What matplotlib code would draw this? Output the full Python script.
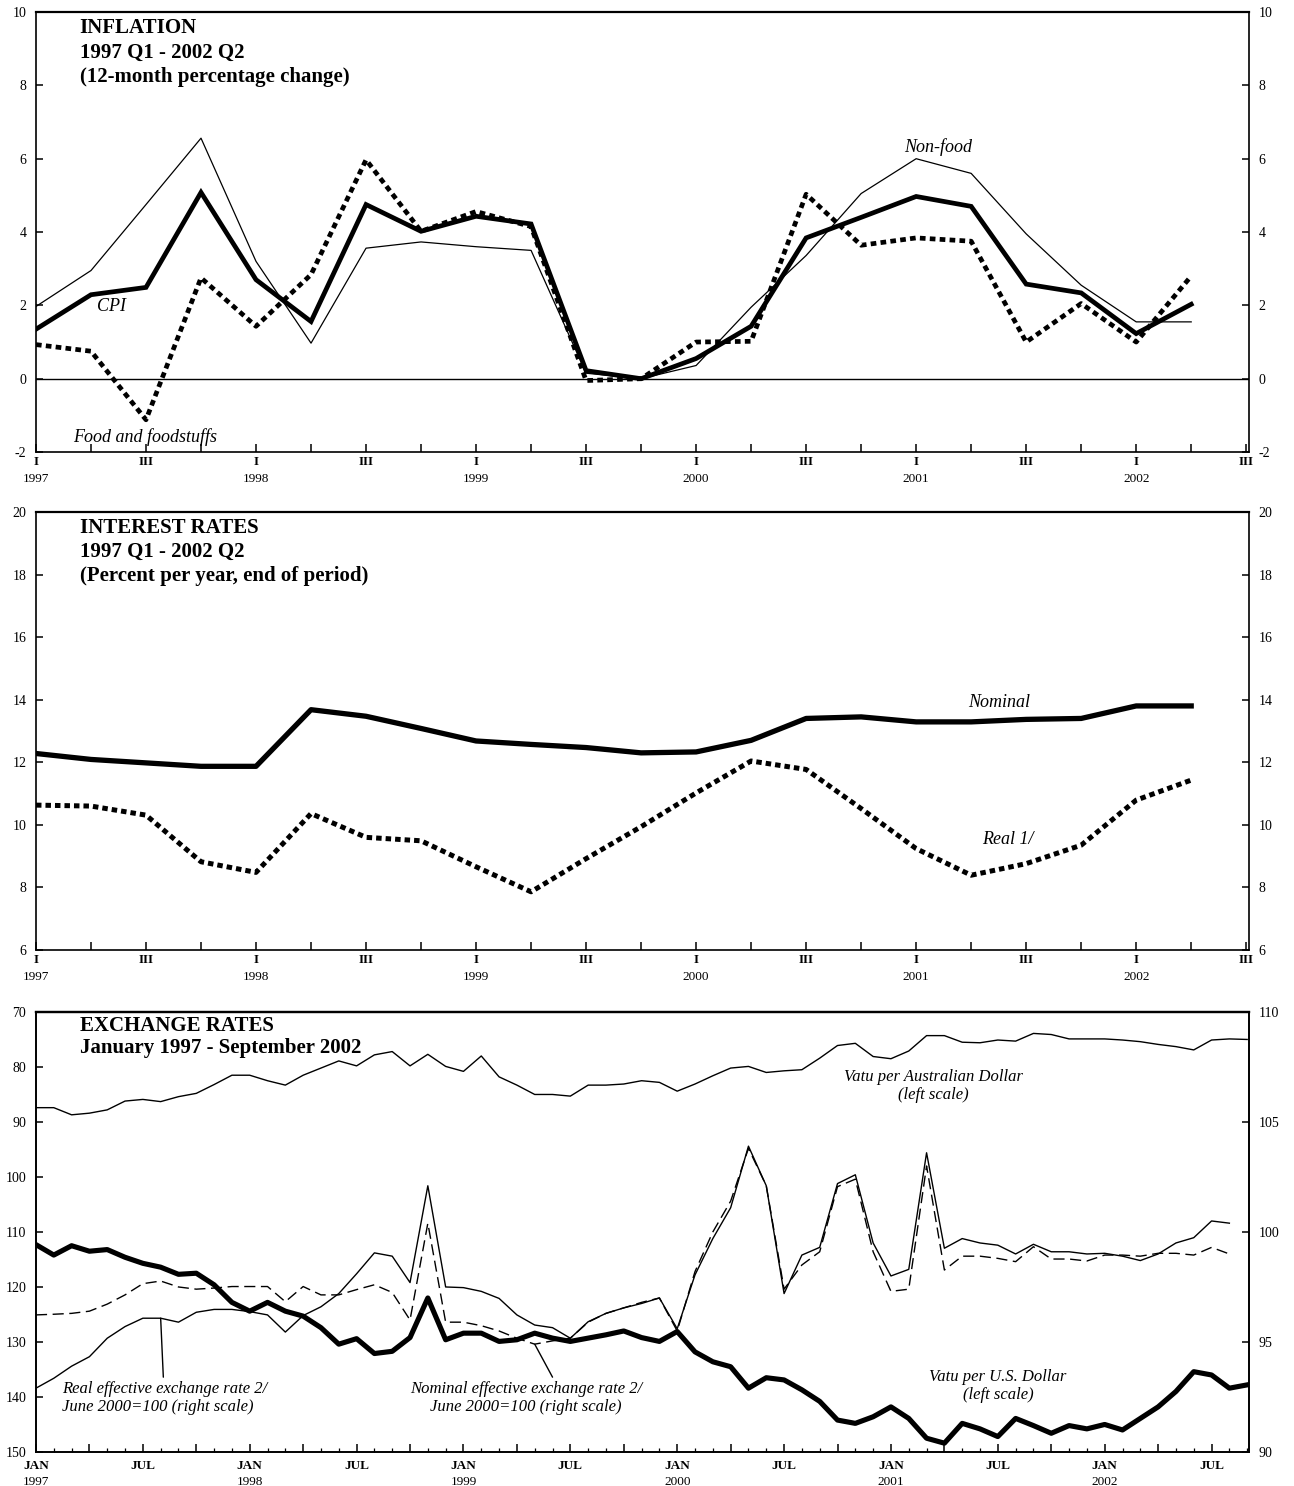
import matplotlib.pyplot as plt
import numpy as np

plt.rcParams['font.family'] = ['Liberation Serif', 'DejaVu Serif']
plt.rcParams['axes.unicode_minus'] = False

# quarterly series, 1997 Q1 - 2002 Q2
cpi = [1.35, 2.29, 2.49, 5.08, 2.70, 1.56, 4.75, 4.02, 4.43, 4.22, 0.22,
       0.00, 0.55, 1.43, 3.84, 4.40, 4.97, 4.70, 2.58, 2.34, 1.23, 2.03]
non_food = [1.97, 2.95, 4.75, 6.56, 3.20, 0.97, 3.56, 3.73, 3.60, 3.50, 0.15,
            0.00, 0.36, 1.95, 3.36, 5.05, 6.00, 5.60, 3.95, 2.55, 1.55, 1.55]
food = [0.93, 0.75, -1.12, 2.75, 1.43, 2.84, 5.97, 4.02, 4.56, 4.15, -0.05,
        0.00, 1.00, 1.02, 5.03, 3.64, 3.84, 3.75, 1.00, 2.05, 1.00, 2.80]

nominal_rate = [12.28, 12.09, 11.98, 11.87, 11.87, 13.68, 13.47, 13.08, 12.68, 12.57, 12.47,
                12.30, 12.33, 12.70, 13.40, 13.45, 13.29, 13.29, 13.37, 13.40, 13.80, 13.80]
real_rate = [10.63, 10.60, 10.31, 8.82, 8.48, 10.36, 9.60, 9.49, 8.66, 7.86, 8.92,
             9.94, 11.02, 12.04, 11.77, 10.52, 9.24, 8.39, 8.76, 9.35, 10.79, 11.43]

# monthly series, January 1997 - September 2002
vt_aud = [87.4, 87.4, 88.7, 88.4, 87.8, 86.2, 85.9, 86.3, 85.4, 84.8, 83.2, 81.5,
          81.5, 82.5, 83.3, 81.5, 80.2, 78.9, 79.8, 77.8, 77.2, 79.8, 77.7, 79.9,
          80.8, 78.0, 81.8, 83.3, 85.0, 85.0, 85.3, 83.3, 83.3, 83.1, 82.5, 82.8,
          84.4, 83.1, 81.6, 80.2, 79.9, 81.0, 80.7, 80.5, 78.4, 76.1, 75.7, 78.1,
          78.5, 77.1, 74.3, 74.3, 75.5, 75.6, 75.1, 75.3, 73.9, 74.1, 74.9, 74.9,
          74.9, 75.1, 75.4, 75.9, 76.3, 76.9, 75.1, 74.9, 75.0]
vt_usd = [112.3, 114.2, 112.5, 113.5, 113.2, 114.6, 115.7, 116.4, 117.7, 117.5, 119.6, 122.8,
          124.4, 122.8, 124.4, 125.3, 127.4, 130.4, 129.4, 132.1, 131.7, 129.2, 122.0, 129.6,
          128.4, 128.4, 129.9, 129.6, 128.4, 129.3, 129.9, 129.3, 128.7, 128.0, 129.2, 129.9,
          128.1, 131.8, 133.6, 134.5, 138.4, 136.5, 136.9, 138.7, 140.8, 144.2, 144.8, 143.6,
          141.8, 143.9, 147.5, 148.4, 144.8, 145.8, 147.2, 143.9, 145.2, 146.6, 145.2, 145.8,
          145.0, 146.0, 143.9, 141.8, 139.0, 135.4, 136.0, 138.4, 137.8]
reer = [92.9, 93.35, 93.9, 94.33, 95.17, 95.7, 96.08, 96.08, 95.9, 96.35, 96.48, 96.48,
        96.38, 96.23, 95.45, 96.2, 96.6, 97.2, 98.1, 99.05, 98.9, 97.7, 102.1, 97.5,
        97.47, 97.3, 96.98, 96.23, 95.77, 95.65, 95.17, 95.92, 96.3, 96.55, 96.75, 97.0,
        95.6, 98.05, 99.7, 101.1, 103.9, 102.1, 97.2, 98.95, 99.3, 102.2, 102.6, 99.5,
        98.0, 98.3, 103.6, 99.26, 99.7, 99.5, 99.4, 99.0, 99.44, 99.1, 99.1, 99.0,
        99.03, 98.9, 98.7, 99.0, 99.5, 99.74, 100.5, 100.4]
neer = [96.23, 96.26, 96.3, 96.4, 96.72, 97.14, 97.65, 97.77, 97.5, 97.4, 97.45, 97.52,
        97.52, 97.52, 96.83, 97.52, 97.14, 97.14, 97.38, 97.6, 97.25, 96.0, 100.4, 95.9,
        95.9, 95.74, 95.5, 95.17, 94.9, 95.05, 95.17, 95.9, 96.3, 96.55, 96.8, 97.0,
        95.5, 98.2, 100.0, 101.4, 103.8, 102.1, 97.4, 98.5, 99.1, 102.06, 102.4, 99.1,
        97.3, 97.4, 103.0, 98.27, 98.9, 98.9, 98.8, 98.65, 99.33, 98.77, 98.77, 98.68,
        98.95, 98.95, 98.9, 99.03, 99.03, 98.95, 99.3, 99.0]

quarters = np.arange(len(cpi))
months = np.arange(len(vt_usd))
q_years = ['1997', '1998', '1999', '2000', '2001', '2002']
m_years = ['1997', '1998', '1999', '2000', '2001', '2002']

TITLE = 15
LABEL = 13
TICK = 10
XLAB = 9.5


def frame(ax):
    for s in ax.spines.values():
        s.set_linewidth(1.2)
    ax.spines['top'].set_linewidth(1.6)


def quarter_axis(ax):
    ax.set_xlim(0, 22.05)
    ax.set_xticks(range(23))
    ax.set_xticklabels([])
    ax.tick_params(axis='x', direction='in', length=6, width=1.1)
    for i in range(0, 23, 2):
        ax.annotate('I' if i % 4 == 0 else 'III', xy=(i, 0), xycoords=('data', 'axes fraction'),
                    xytext=(0, -7.5), textcoords='offset points', ha='center', va='center',
                    fontsize=XLAB, fontweight='bold')
        if i % 4 == 0 and i // 4 < len(q_years):
            ax.annotate(q_years[i // 4], xy=(i, 0), xycoords=('data', 'axes fraction'),
                        xytext=(0, -19.5), textcoords='offset points', ha='center', va='center',
                        fontsize=XLAB)


def both_sides(ax, ticks):
    ax.set_yticks(ticks)
    ax.tick_params(axis='y', direction='in', length=5, width=1.1, left=True, right=True,
                   labelleft=True, labelright=True, labelsize=TICK, pad=7)


def titles(ax, lines, ys):
    for t, y in zip(lines, ys):
        ax.text(0.036, y, t, transform=ax.transAxes, ha='left', va='center',
                fontsize=TITLE, fontweight='bold')


fig = plt.figure(figsize=(12.94, 14.86), dpi=100)

# inflation
ax1 = fig.add_axes([0.0278, 0.6958, 0.9374, 0.2961])
ax1.axhline(0, color='black', lw=1.0)
ax1.plot(quarters, non_food, color='black', lw=0.9)
ax1.plot(quarters, food, color='black', lw=3.4, linestyle=(0, (1.2, 0.9)))
ax1.plot(quarters, cpi, color='black', lw=3.4, solid_joinstyle='miter')
ax1.set_ylim(-2, 10)
both_sides(ax1, range(-2, 11, 2))
quarter_axis(ax1)
frame(ax1)
titles(ax1, ['INFLATION', '1997 Q1 - 2002 Q2', '(12-month percentage change)'],
       [0.9636, 0.907, 0.852])
ax1.text(1.38, 1.96, 'CPI', style='italic', fontsize=LABEL, ha='center', va='center')
ax1.text(1.98, -1.58, 'Food and foodstuffs', style='italic', fontsize=LABEL, ha='center', va='center')
ax1.text(16.4, 6.33, 'Non-food', style='italic', fontsize=LABEL, ha='center', va='center')

# interest rates
ax2 = fig.add_axes([0.0278, 0.3607, 0.9374, 0.2948])
ax2.plot(quarters, real_rate, color='black', lw=3.6, linestyle=(0, (1.1, 0.8)))
ax2.plot(quarters, nominal_rate, color='black', lw=3.8)
ax2.set_ylim(6, 20)
both_sides(ax2, range(6, 21, 2))
quarter_axis(ax2)
frame(ax2)
titles(ax2, ['INTEREST RATES', '1997 Q1 - 2002 Q2', '(Percent per year, end of period)'],
       [0.9635, 0.9087, 0.854])
ax2.text(17.5, 13.9, 'Nominal', style='italic', fontsize=LABEL, ha='center', va='center')
ax2.text(17.67, 9.52, 'Real 1/', style='italic', fontsize=LABEL, ha='center', va='center')

# exchange rates: left scale is inverted (vatu per dollar), right scale is the index
ax3 = fig.add_axes([0.0278, 0.0229, 0.9374, 0.2961])
ax3b = ax3.twinx()
ax3b.plot(months[:len(reer)], reer, color='black', lw=1.0)
ax3b.plot(months[:len(neer)], neer, color='black', lw=1.0, linestyle=(0, (8, 4)))
ax3.plot(months, vt_aud, color='black', lw=1.0)
ax3.plot(months, vt_usd, color='black', lw=3.7)
ax3.set_ylim(150, 70)
ax3b.set_ylim(90, 110)
ax3.set_xlim(0, 68.1)
ax3.set_yticks(range(70, 151, 10))
ax3b.set_yticks(range(90, 111, 5))
ax3.tick_params(axis='y', direction='in', length=5, width=1.1, labelsize=TICK, pad=7)
ax3b.tick_params(axis='y', direction='in', length=5, width=1.1, labelsize=TICK, pad=7)
ax3.set_xticks(range(0, 69, 3))
ax3.set_xticks(range(69), minor=True)
ax3.set_xticklabels([])
ax3.tick_params(axis='x', which='major', direction='in', length=6, width=1.1)
ax3.tick_params(axis='x', which='minor', direction='in', length=3, width=0.9)
for m in range(0, 69, 6):
    ax3.annotate('JAN' if m % 12 == 0 else 'JUL', xy=(m, 0), xycoords=('data', 'axes fraction'),
                 xytext=(0, -10), textcoords='offset points', ha='center', va='center',
                 fontsize=XLAB, fontweight='bold')
    if m % 12 == 0:
        ax3.annotate(m_years[m // 12], xy=(m, 0), xycoords=('data', 'axes fraction'),
                     xytext=(0, -21.5), textcoords='offset points', ha='center', va='center',
                     fontsize=XLAB)
frame(ax3)
frame(ax3b)
titles(ax3, ['EXCHANGE RATES', 'January 1997 - September 2002'], [0.968, 0.918])

ax3b.text(1.45, 92.45, 'Real effective exchange rate 2/\nJune 2000=100 (right scale)',
          style='italic', fontsize=12, ha='left', va='center', linespacing=1.2)
ax3b.annotate('', xy=(7, reer[7]), xytext=(7.15, 93.4),
              arrowprops=dict(arrowstyle='-', lw=1.0, color='black', shrinkA=0, shrinkB=0))
ax3b.text(27.5, 92.45, 'Nominal effective exchange rate 2/\nJune 2000=100 (right scale)',
          style='italic', fontsize=12, ha='center', va='center', linespacing=1.2)
ax3b.annotate('', xy=(28, neer[28]), xytext=(29.0, 93.4),
              arrowprops=dict(arrowstyle='-', lw=1.0, color='black', shrinkA=0, shrinkB=0))
ax3.text(50.4, 83.5, 'Vatu per Australian Dollar\n(left scale)', style='italic',
         fontsize=12, ha='center', va='center', linespacing=1.2)
ax3.text(54.0, 138.0, 'Vatu per U.S. Dollar\n(left scale)', style='italic',
         fontsize=12, ha='center', va='center', linespacing=1.2)

fig.savefig('out.png', dpi=100)
